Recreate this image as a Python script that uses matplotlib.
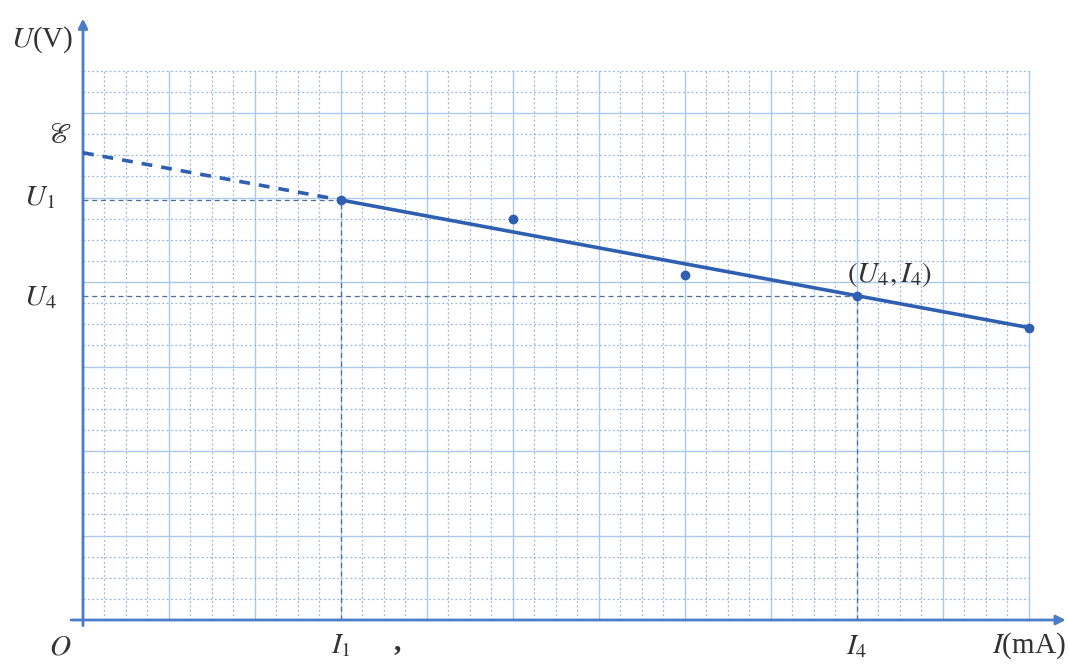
import numpy as np
import matplotlib.pyplot as plt

plt.rcParams['mathtext.fontset'] = 'stix'
plt.rcParams['font.family'] = 'Liberation Serif'

# measured points (I in grid units, U in grid units)
I_pts = [3.0, 5.0, 7.0, 9.0, 11.0]
U_pts = [4.97, 4.75, 4.08, 3.84, 3.46]
E = 5.53
I1, U1 = 3.0, 4.97
I4, U4 = 9.0, 3.84

grid_w, grid_h = 11, 6.5

line_col = '#2f5fb0'
axis_col = '#4a7cc8'
major_col = '#a9c9ea'
minor_col = '#95b8e0'
text_col = '#333333'

fig = plt.figure(figsize=(10.69, 6.64), dpi=100)
ax = fig.add_axes([0, 0, 1, 1])
# pixel mapping: x=0 -> 83px, 86px per unit; y=0 -> 620px from top, 84.5px per unit
ax.set_xlim(-83 / 86, (1069 - 83) / 86)
ax.set_ylim(-44 / 84.5, 620 / 84.5)
ax.axis('off')

# graph paper
for x in np.arange(0.25, grid_w + 0.01, 0.25):
    if abs(x - round(x)) < 1e-6:
        ax.plot([x, x], [0, grid_h], color=major_col, lw=1.0, zorder=1)
    else:
        ax.plot([x, x], [0, grid_h], color=minor_col, lw=0.9, ls=(0, (1.5, 2)), zorder=1)
for y in np.arange(0.25, grid_h + 0.01, 0.25):
    if abs(y - round(y)) < 1e-6:
        ax.plot([0, grid_w], [y, y], color=major_col, lw=1.0, zorder=1)
    else:
        ax.plot([0, grid_w], [y, y], color=minor_col, lw=0.9, ls=(0, (1.5, 2)), zorder=1)

# axes with arrows
ax.annotate('', xy=(0, 7.15), xytext=(0, -0.1),
            arrowprops=dict(arrowstyle='-|>', color=axis_col, lw=2, mutation_scale=14), zorder=3)
ax.annotate('', xy=(11.46, 0), xytext=(-0.17, 0),
            arrowprops=dict(arrowstyle='-|>', color=axis_col, lw=2, mutation_scale=14), zorder=3)

# guide lines
guide = dict(color='#4d6f9e', lw=0.9, ls=(0, (4, 3)), zorder=2)
ax.plot([0, I1], [U1, U1], **guide)
ax.plot([I1, I1], [0, U1], **guide)
ax.plot([0, I4], [U4, U4], **guide)
ax.plot([I4, I4], [0, U4], **guide)

# fitted line and extrapolation
ax.plot([0, I1], [E, U1], color=line_col, lw=2.6, ls=(0, (3, 2.5)), zorder=4)
ax.plot([I1, I_pts[-1]], [U1, U_pts[-1]], color=line_col, lw=2.6, zorder=4)
ax.plot(I_pts, U_pts, 'o', color=line_col, ms=6, zorder=5)

# labels
fs = 21
ax.text(-0.48, 6.87, r'$U$(V)', fontsize=fs, color=text_col, ha='center', va='center')
ax.text(-0.27, E + 0.2, r'$\mathscr{E}$', fontsize=fs, color=text_col, ha='center', va='center')
ax.text(-0.5, U1 + 0.03, r'$U_1$', fontsize=fs, color=text_col, ha='center', va='center')
ax.text(-0.5, U4 - 0.03, r'$U_4$', fontsize=fs, color=text_col, ha='center', va='center')
ax.text(-0.27, -0.32, r'$O$', fontsize=fs, color=text_col, ha='center', va='center')
ax.text(I1, -0.3, r'$I_1$', fontsize=fs, color=text_col, ha='center', va='center')
ax.text(I4, -0.32, r'$I_4$', fontsize=fs, color=text_col, ha='center', va='center')
ax.text(11.0, -0.3, r'$I$(mA)', fontsize=fs, color=text_col, ha='center', va='center')
ax.text(I4 + 0.38, U4 + 0.25, r'$(U_4, I_4)$', fontsize=fs, color=text_col, ha='center', va='center')
ax.text(3.65, -0.25, ',', fontsize=fs, color=text_col, ha='center', va='center', fontweight='bold')

fig.savefig('out.png', dpi=100)
